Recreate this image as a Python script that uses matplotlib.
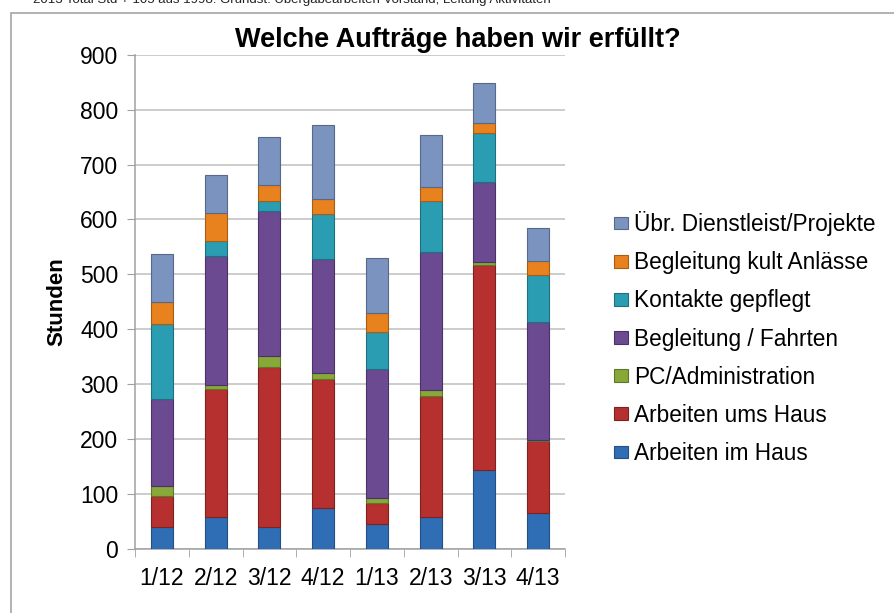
import matplotlib
matplotlib.use("Agg")
import matplotlib.pyplot as plt
from matplotlib.patches import Rectangle
import numpy as np

plt.rcParams['font.family'] = ['Liberation Sans', 'DejaVu Sans']

categories = ["1/12", "2/12", "3/12", "4/12", "1/13", "2/13", "3/13", "4/13"]
series_names = ["Arbeiten im Haus", "Arbeiten ums Haus", "PC/Administration",
                "Begleitung / Fahrten", "Kontakte gepflegt", "Begleitung kult Anlässe",
                "Übr. Dienstleist/Projekte"]
arbeiten_im_haus = [40, 59, 40, 75, 46, 59, 144, 65]
arbeiten_ums_haus = [57, 232, 291, 234, 37, 220, 373, 132]
pc_administration = [18, 7, 21, 11, 10, 11, 5, 2]
begleitung_fahrten = [159, 236, 264, 208, 234, 250, 146, 214]
kontakte_gepflegt = [136, 27, 18, 82, 68, 93, 89, 85]
begleitung_kult = [40, 51, 29, 28, 35, 27, 18, 26]
uebr_dienstleist = [88, 69, 87, 134, 100, 94, 74, 61]
yticks = [0, 100, 200, 300, 400, 500, 600, 700, 800, 900]

series = [arbeiten_im_haus, arbeiten_ums_haus, pc_administration, begleitung_fahrten,
          kontakte_gepflegt, begleitung_kult, uebr_dienstleist]
colors = ["#2F6DB5", "#B5302E", "#88A83A", "#6B4A92", "#2B9DB2", "#E8821E", "#7B93BF"]
edges = ["#244F80", "#7E2221", "#5E7628", "#4B3367", "#1F6F7E", "#A85D15", "#57688A"]

W, H = 895, 613
fig = plt.figure(figsize=(W / 100, H / 100), dpi=100)

# outer chart border
fig.patches.append(Rectangle((11 / W, -0.1), 1.2, (H - 13) / H + 0.1,
                             transform=fig.transFigure, fill=False,
                             edgecolor="#A6A6A6", linewidth=1.2))

ax = fig.add_axes([135 / W, (H - 549) / H, (565 - 135) / W, (549 - 54.7) / H])

x = np.arange(len(categories))
bottom = np.zeros(len(categories))
handles = []
for name, vals, c, e in zip(series_names, series, colors, edges):
    b = ax.bar(x, vals, width=0.41, bottom=bottom, color=c, edgecolor=e,
               linewidth=0.8, label=name, zorder=3)
    handles.append(b)
    bottom += np.array(vals)

ax.set_xlim(-0.5, len(categories) - 0.5)
ax.set_ylim(0, 900)
ax.set_yticks(yticks)
ax.set_yticklabels([str(t) for t in yticks], fontsize=16.5)
ax.set_xticks(x)
ax.set_xticklabels(categories, fontsize=16.5)
ax.set_xticks(np.arange(len(categories) + 1) - 0.5, minor=True)
ax.tick_params(axis='x', which='major', length=0, pad=13)
ax.tick_params(axis='x', which='minor', length=6, color="#A0A0A0", direction='out')
ax.tick_params(axis='y', length=6, color="#A0A0A0", pad=6)
ax.grid(axis='y', color="#BFBFBF", linewidth=1.1, zorder=0)
ax.set_axisbelow(True)
for s in ['top', 'right']:
    ax.spines[s].set_visible(False)
for s in ['left', 'bottom']:
    ax.spines[s].set_color("#A0A0A0")
    ax.spines[s].set_linewidth(1.1)

ax.set_ylabel("Stunden", fontsize=16, fontweight='bold', labelpad=9)
fig.text(457.5 / W, 1 - 40 / H, "Welche Aufträge haben wir erfüllt?", fontsize=19.5,
         fontweight='bold', ha='center', va='center')

fig.text(33 / W, 1 - 3 / H,
         "2013 Total Std + 105 aus 1998: Grundst. Übergabearbeiten Vorstand, Leitung Aktivitäten",
         fontsize=9.5, ha='left', va='baseline', color="#222222")

leg = fig.legend(handles[::-1], series_names[::-1], loc='upper left',
                 bbox_to_anchor=(614 / W, 1 - 211 / H), frameon=False, fontsize=16.3,
                 handlelength=0.6, handleheight=0.5, handletextpad=0.3,
                 labelspacing=0.67, borderaxespad=0, borderpad=0)

fig.savefig("out.png", dpi=100)
